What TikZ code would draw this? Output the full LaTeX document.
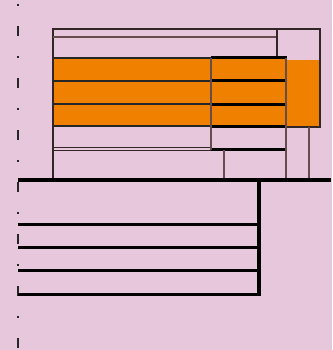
\documentclass[tikz,border=0pt]{standalone}
\begin{document}
\begin{tikzpicture}[x=1pt,y=-1pt,
  thinline/.style={draw=black!80!pink,line width=1.2pt},
  greyline/.style={draw=black!60!pink,line width=1.8pt},
  heavy/.style={draw=black,line width=3pt},
  ofill/.style={fill=orangeC}]
\definecolor{bgC}{HTML}{E6C7DC}
\definecolor{orangeC}{HTML}{F08000}
\fill[bgC] (0,0) rectangle (332,350);
\useasboundingbox (0,0) rectangle (332,350);
% dashed axis
\draw[draw=black!85,line width=2pt,dash pattern=on 2pt off 20pt on 10pt off 20pt] (18,4) -- (18,350);
% orange areas
\fill[ofill] (53,58) rectangle (286,127);
\fill[ofill] (286,60) rectangle (320,127);
% frame
\draw[thinline] (53,180) -- (53,29) -- (320,29) -- (320,127) -- (286,127);
\draw[greyline] (53,37) -- (277,37);
\draw[thinline] (277,29) -- (277,58);
% orange stripes
\foreach \y in {58,81,104,126} {
  \draw[draw=black!85,line width=1.6pt] (53,\y) -- (211,\y);
  \draw[heavy] (211,\y) -- (287,\y);
}
\draw[thinline] (53,147.5) -- (211,147.5);
\draw[thinline] (53,150.5) -- (211,150.5);
\draw[heavy] (211,149) -- (287,149);
\draw[greyline] (211,58) -- (211,150);
\draw[greyline] (286,58) -- (286,180);
\draw[greyline] (224,150) -- (224,180);
\draw[greyline] (309,127) -- (309,180);
% lower block
\draw[draw=black,line width=3.5pt] (18,180) -- (331,180);
\draw[draw=black,line width=4pt] (259,180) -- (259,296);
\foreach \y in {224,247,270,294} {
  \draw[heavy] (18,\y) -- (261,\y);
}
\end{tikzpicture}
\end{document}
